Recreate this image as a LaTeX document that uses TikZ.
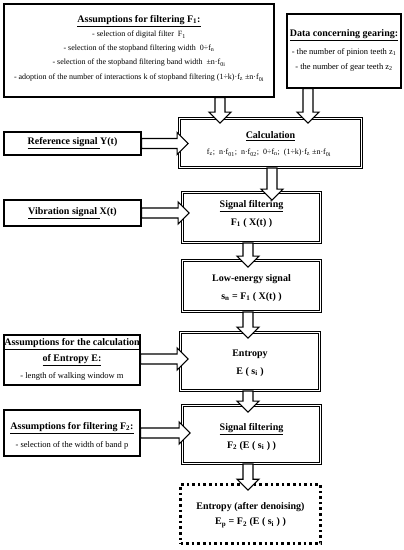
\documentclass[tikz,border=0pt]{standalone}
\usepackage{fontspec}
\setmainfont{Liberation Serif}
\usetikzlibrary{calc}
\tikzset{
  sbox/.style={draw, line width=1.3pt, fill=white, inner sep=0pt},
  dbox/.style={draw, double, double distance=1.4pt, line width=0.9pt, inner sep=0pt},
  pbox/.style={draw, line width=2.6pt, dash pattern=on 2.6pt off 3pt, inner sep=0pt},
  ttl/.style={font=\fontsize{10}{12}\selectfont\bfseries, inner sep=0pt},
  txt/.style={font=\fontsize{8.5}{10}\selectfont, inner sep=0pt},
  stxt/.style={font=\fontsize{8}{10}\selectfont, inner sep=0pt},
  barr/.style={draw, fill=white, line width=1.1pt, line join=miter}
}
\newcommand{\barrow}[2]{%
  \coordinate (ba) at #1; \coordinate (bb) at #2;
  \coordinate (bh) at ($(bb)!11pt!(ba)$);
  \draw[barr] ($(ba)!5pt!90:(bb)$) -- ($(bh)!5pt!90:(bb)$) -- ($(bh)!11pt!90:(bb)$) -- (bb)
    -- ($(bh)!11pt!-90:(bb)$) -- ($(bh)!5pt!-90:(bb)$) -- ($(ba)!5pt!-90:(bb)$) -- cycle;}
\begin{document}
\begin{tikzpicture}[x=1pt,y=-1pt]
\useasboundingbox (0,0) rectangle (404,550);
\fill[white] (0,0) rectangle (404,550);
% boxes
\node[sbox, minimum width=270pt, minimum height=93pt] (f1) at (139,50.5) {};
\node[sbox, minimum width=114pt, minimum height=74pt] (gear) at (344,51) {};
\node[dbox, minimum width=182pt, minimum height=49pt] (calc) at (270.5,143) {};
\node[sbox, minimum width=137pt, minimum height=23pt] (ref) at (72.5,143.5) {};
\node[dbox, minimum width=138pt, minimum height=50pt] (sf1) at (251.5,217.5) {};
\node[sbox, minimum width=137pt, minimum height=26pt] (vib) at (72.5,213) {};
\node[dbox, minimum width=138pt, minimum height=51pt] (le) at (251.5,286) {};
\node[dbox, minimum width=139pt, minimum height=58pt] (ent) at (250,361.5) {};
\node[sbox, minimum width=136pt, minimum height=50pt] (aent) at (72,360) {};
\node[dbox, minimum width=138pt, minimum height=58pt] (sf2) at (251.5,434.5) {};
\node[sbox, minimum width=136pt, minimum height=46pt] (af2) at (72,433) {};
\node[pbox, minimum width=140pt, minimum height=59pt] (den) at (250.5,514) {};
% texts
\node[ttl] (t11) at (139,21) {\underline{Assumptions for filtering F\textsubscript{1}:}};
\node[stxt] (t12) at (139,35) {- selection of digital filter\ \ F\textsubscript{1}};
\node[stxt] (t13) at (139,49) {- selection of the stopband filtering width\ \ 0÷f\textsubscript{n}};
\node[stxt] (t14) at (139,63) {- selection of the stopband filtering band width\ \ ±n·f\textsubscript{0i}};
\node[stxt] (t15) at (139,78) {- adoption of the number of interactions k of stopband filtering (1÷k)·f\textsubscript{z} ±n·f\textsubscript{0i}};
\node[ttl] (t21) at (344,35) {\underline{Data concerning gearing:}};
\node[txt] (t22) at (344,52) {- the number of pinion teeth z\textsubscript{1}};
\node[txt] (t23) at (344,67) {- the number of gear teeth z\textsubscript{2}};
\node[ttl] (t31) at (270.5,136) {\underline{Calculation}};
\node[stxt] (t32) at (269,153) {f\textsubscript{z};\ \ n·f\textsubscript{01};\ \ n·f\textsubscript{02};\ \ 0÷f\textsubscript{n};\ \ (1÷k)·f\textsubscript{z} ±n·f\textsubscript{0i}};
\node[ttl] (t4) at (72.5,143.5) {\underline{Reference signal\ }Y(t)};
\node[ttl] (t51) at (251.5,206) {\underline{Signal filtering}};
\node[ttl] (t52) at (251.5,223) {F\textsubscript{1} ( X(t) )};
\node[ttl] (t6) at (72.5,213) {\underline{Vibration signal\ }X(t)};
\node[ttl] (t71) at (251.5,279) {Low-energy signal};
\node[ttl] (t72) at (251.5,297) {s\textsubscript{n} = F\textsubscript{1} ( X(t) )};
\node[ttl] (t81) at (250,354) {Entropy};
\node[ttl] (t82) at (250,372) {E ( s\textsubscript{i} )};
\node[ttl] (t91) at (72,344) {\underline{Assumptions for the calculation}};
\node[ttl] (t92) at (72,360) {\underline{of Entropy E:}};
\node[txt] (t93) at (72,376) {- length of walking window m};
\node[ttl] (t101) at (251.5,429) {\underline{Signal filtering}};
\node[ttl] (t102) at (251.5,446) {F\textsubscript{2} (E ( s\textsubscript{i} ) )};
\node[ttl] (t111) at (72,428) {\underline{Assumptions for filtering F\textsubscript{2}:}};
\node[txt] (t112) at (72,445) {- selection of the width of band p};
\node[ttl] (t121) at (250.5,507) {Entropy (after denoising)};
\node[ttl] (t122) at (250.5,523) {E\textsubscript{p} = F\textsubscript{2} (E ( s\textsubscript{i} ) )};
% arrows
\barrow{($(f1.south)+(81,0)$)}{($(calc.north)+(-50.5,5)$)}
\barrow{($(gear.south)+(-36,0)$)}{($(calc.north)+(37.5,5)$)}
\barrow{($(calc.south)+(1.5,0)$)}{($(sf1.north)+(20.5,8)$)}
\barrow{($(sf1.south)+(-3.5,0)$)}{($(le.north)+(-3.5,7)$)}
\barrow{($(le.south)+(-3.5,0)$)}{($(ent.north)+(-2,6)$)}
\barrow{($(ent.south)+(-2,0)$)}{($(sf2.north)+(-3.5,7)$)}
\barrow{($(sf2.south)+(-3.5,0)$)}{($(den.north)+(-2.5,7)$)}
\barrow{(ref.east)}{($(calc.west|-ref.east)+(9,0)$)}
\barrow{(vib.east)}{($(sf1.west|-vib.east)+(7,0)$)}
\barrow{($(aent.east)+(0,-1)$)}{($(ent.west|-aent.east)+(8,-1)$)}
\barrow{(af2.east)}{($(sf2.west|-af2.east)+(8,0)$)}
\end{tikzpicture}
\end{document}
